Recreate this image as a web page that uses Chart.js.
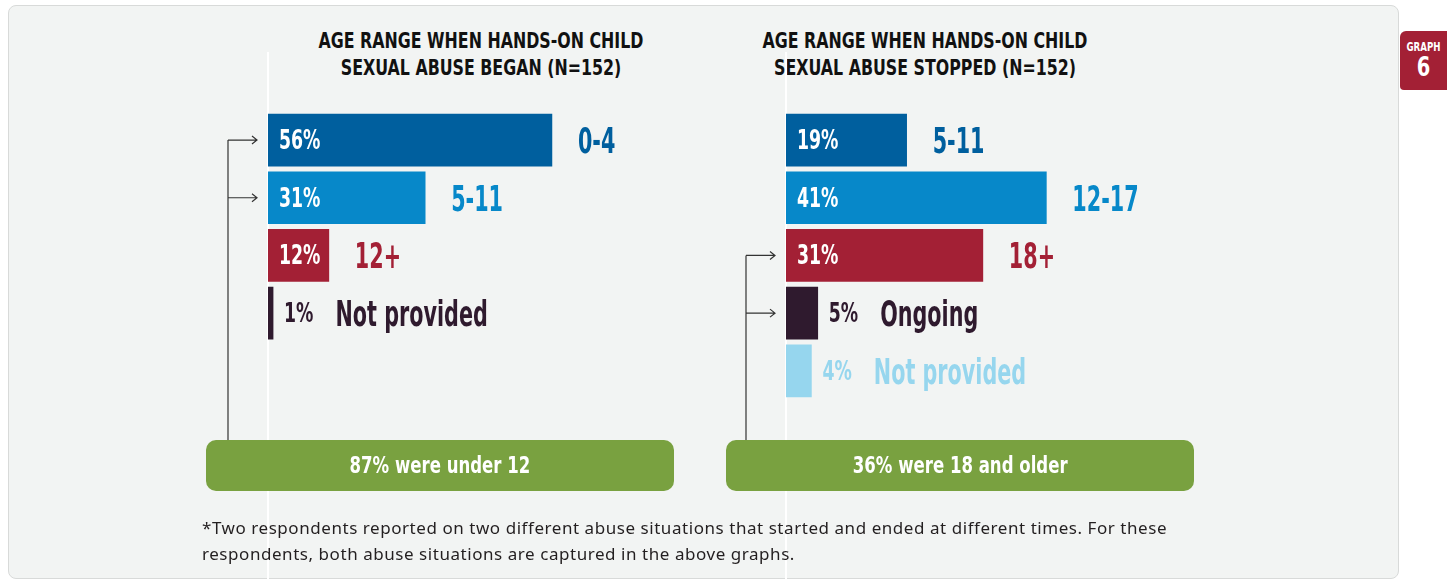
<!DOCTYPE html>
<html>
<head>
<meta charset="utf-8">
<script src="https://cdn.jsdelivr.net/npm/chart.js@4"></script>
<style>
  body { margin: 0; width: 1447px; height: 579px; overflow: hidden; background: #fff; position: relative; }
  #panel { position: absolute; left: 8px; top: 5px; width: 1389px; height: 572px; background: #f2f4f3; border: 1px solid #d8dad9; border-radius: 8px; }
  .title { position: absolute; top: 27px; width: 420px; text-align: center; font: bold 22px "DejaVu Sans Condensed", sans-serif; line-height: 27px; color: #111; transform: scaleX(0.8); }
  .box { position: absolute; top: 440px; width: 468px; height: 51px; background: #79a140; border-radius: 10px; color: #fff; text-align: center; font: bold 23px "DejaVu Sans Condensed", sans-serif; line-height: 51px; }
  .box span { display: inline-block; transform: scaleX(0.8); }
  .chartwrap { position: absolute; top: 0; height: 579px; }
  #note { position: absolute; left: 202px; top: 515px; font: 17px "Noto Sans", sans-serif; letter-spacing: 0.55px; line-height: 26px; color: #231f20; width: 1100px; }
  #tab { position: absolute; left: 1400px; top: 31px; width: 47px; height: 59px; background: #a32035; border-radius: 6px 0 0 4px; color: #fff; text-align: center; font-family: "DejaVu Sans Condensed", sans-serif; font-weight: bold; }
  #tab div { transform: scaleX(0.8); }
</style>
</head>
<body>
<div id="panel"></div>

<div class="title" style="left:271px">AGE RANGE WHEN HANDS-ON CHILD<br>SEXUAL ABUSE BEGAN (N=152)</div>
<div class="title" style="left:715px">AGE RANGE WHEN HANDS-ON CHILD<br>SEXUAL ABUSE STOPPED (N=152)</div>

<div class="chartwrap" style="left:200px;width:520px"><canvas id="began"></canvas></div>
<div class="chartwrap" style="left:720px;width:500px"><canvas id="stopped"></canvas></div>

<div class="box" style="left:206px"><span id="boxBegan"></span></div>
<div class="box" style="left:726px"><span id="boxStopped"></span></div>

<div id="note">*Two respondents reported on two different abuse situations that started and ended at different times. For these<br>respondents, both abuse situations are captured in the above graphs.</div>

<div id="tab"><div style="font-size:12px;line-height:12px;margin-top:10px">GRAPH</div><div style="font-size:27px;line-height:28px">6</div></div>

<script>
// data
const beganLabels = ["0-4", "5-11", "12+", "Not provided"];
const beganValues = [56, 31, 12, 1];
const beganLinked = [0, 1];          // bars summed in the green box

const stoppedLabels = ["5-11", "12-17", "18+", "Ongoing", "Not provided"];
const stoppedValues = [19, 41, 31, 5, 4];
const stoppedLinked = [2, 3];

const beganColors = ["#005f9e", "#0788c9", "#a32035", "#2f1a2e"];
const stoppedColors = ["#005f9e", "#0788c9", "#a32035", "#2f1a2e", "#96d6ee"];

const NARROW = '"DejaVu Sans Condensed", sans-serif';

// draw text squeezed horizontally, returns drawn width
function squeezeText(ctx, txt, x, y, k) {
  const w = ctx.measureText(txt).width * k;
  ctx.fillText(txt, x, y, w);
  return w;
}

const barLabels = {
  id: 'barLabels',
  beforeDatasetsDraw(chart) {
    const ctx = chart.ctx, area = chart.chartArea;
    ctx.save();
    ctx.strokeStyle = '#ffffff';
    ctx.lineWidth = 2;
    ctx.beginPath();
    ctx.moveTo(area.left, 52);
    ctx.lineTo(area.left, chart.height);
    ctx.stroke();
    ctx.restore();
  },
  afterDatasetsDraw(chart, args, opts) {
    const ctx = chart.ctx, area = chart.chartArea;
    const meta = chart.getDatasetMeta(0);
    const ds = chart.data.datasets[0];
    ctx.save();
    ctx.textAlign = 'left';
    ctx.textBaseline = 'alphabetic';
    meta.data.forEach((bar, i) => {
      const v = ds.data[i];
      const col = ds.backgroundColor[i];
      const pct = v + '%';
      let x;
      ctx.font = 'bold 26px ' + NARROW;
      if (v >= 10) {
        ctx.fillStyle = '#fff';
        squeezeText(ctx, pct, area.left + 11, bar.y + 9, 0.74);
        x = bar.x + 26;
      } else {
        ctx.fillStyle = col;
        const w = squeezeText(ctx, pct, bar.x + 11, bar.y + 9, 0.74);
        x = bar.x + 11 + w + 22;
      }
      ctx.font = 'bold 36px ' + NARROW;
      ctx.fillStyle = col;
      squeezeText(ctx, chart.data.labels[i], x, bar.y + 13, 0.64);
    });

    // connector with arrows to the summed bars
    const linked = opts.linked || [];
    if (linked.length) {
      const vx = area.left - 40, tip = area.left - 11;
      const y0 = meta.data[linked[0]].y;
      ctx.strokeStyle = '#333';
      ctx.lineWidth = 1.2;
      ctx.beginPath();
      ctx.moveTo(vx, y0);
      ctx.lineTo(vx, 440);
      linked.forEach(i => {
        const y = meta.data[i].y;
        ctx.moveTo(vx, y);
        ctx.lineTo(tip, y);
        ctx.moveTo(tip - 5, y - 4);
        ctx.lineTo(tip, y);
        ctx.lineTo(tip - 5, y + 4);
      });
      ctx.stroke();
    }
    ctx.restore();
  }
};

function makeChart(id, labels, values, colors, linked, max, pad) {
  return new Chart(document.getElementById(id), {
    type: 'bar',
    data: {
      labels: labels,
      datasets: [{
        data: values,
        backgroundColor: colors,
        categoryPercentage: 1,
        barThickness: 52
      }]
    },
    options: {
      indexAxis: 'y',
      responsive: true,
      maintainAspectRatio: false,
      animation: false,
      layout: { padding: pad },
      scales: {
        x: { display: false, min: 0, max: max },
        y: { display: false }
      },
      plugins: {
        legend: { display: false },
        tooltip: { enabled: false },
        barLabels: { linked: linked }
      }
    },
    plugins: [barLabels]
  });
}

makeChart('began', beganLabels, beganValues, beganColors, beganLinked, 80,
  { left: 68, right: 46.4, top: 111.2, bottom: 579 - 111.2 - 4 * 57.7 });
makeChart('stopped', stoppedLabels, stoppedValues, stoppedColors, stoppedLinked, 60,
  { left: 66, right: 53, top: 111.2, bottom: 579 - 111.2 - 5 * 57.7 });

const sum = (vals, idx) => idx.reduce((s, i) => s + vals[i], 0);
document.getElementById('boxBegan').textContent = sum(beganValues, beganLinked) + '% were under 12';
document.getElementById('boxStopped').textContent = sum(stoppedValues, stoppedLinked) + '% were 18 and older';
</script>
</body>
</html>
